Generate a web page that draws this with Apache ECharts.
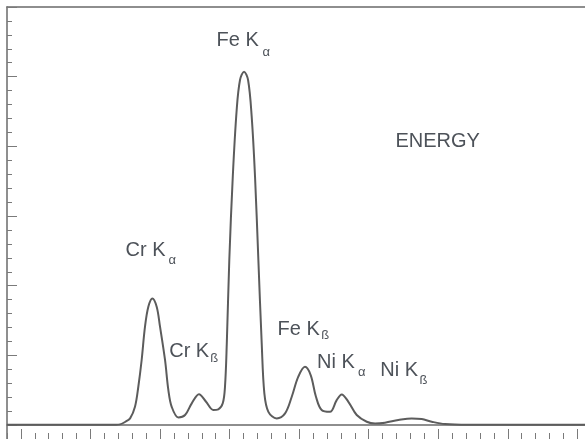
<!DOCTYPE html>
<html>
<head>
<meta charset="utf-8">
<script src="https://cdn.jsdelivr.net/npm/echarts@6/dist/echarts.min.js"></script>
<style>
  html, body { margin: 0; padding: 0; background: #fff; }
  #chart { width: 585px; height: 439px; }
</style>
</head>
<body>
<div id="chart"></div>
<script>
// Spectrum trace (x in tick units, y in tick units)
var energy = [-1.00, 5.69, 6.76, 7.12, 7.48, 7.85, 8.20, 8.44, 8.68, 8.92, 9.16, 9.45, 9.76, 10.00, 10.36, 10.60, 10.84, 11.32, 11.80, 12.28, 12.80, 13.31, 13.83, 14.19, 14.51, 14.67, 14.80, 14.98, 15.23, 15.51, 15.75, 16.04, 16.33, 16.59, 16.83, 17.07, 17.31, 17.50, 17.79, 18.39, 18.99, 19.47, 19.94, 20.42, 20.83, 21.21, 21.62, 22.22, 22.70, 23.06, 23.54, 24.14, 24.86, 25.46, 26.17, 27.13, 28.09, 28.81, 29.53, 30.49, 32.14, 40.55];
var counts = [0.02, 0.02, 0.03, 0.05, 0.22, 0.48, 1.31, 2.75, 4.67, 7.06, 8.49, 9.09, 8.49, 7.06, 4.67, 2.51, 1.31, 0.55, 0.72, 1.56, 2.22, 1.67, 1.08, 1.13, 1.56, 2.75, 5.86, 11.84, 17.82, 22.61, 24.76, 25.36, 24.76, 22.13, 17.82, 11.84, 5.86, 2.28, 0.95, 0.48, 0.84, 2.03, 3.47, 4.18, 3.59, 2.03, 1.08, 0.95, 1.79, 2.20, 1.67, 0.72, 0.24, 0.11, 0.17, 0.36, 0.48, 0.43, 0.24, 0.07, 0.02, 0.02];

var peakNames = ['Fe K', 'Cr K', 'Cr K', 'Fe K', 'Ni K', 'Ni K'];
var peakSubs = ['\u03b1', '\u03b1', '\u00df', '\u00df', '\u03b1', '\u00df'];
var axisTitle = 'ENERGY';

var X_MIN = -1, X_MAX = 40.55, Y_MIN = -1, Y_MAX = 30;
var PX_X = 578 / (X_MAX - X_MIN);      // px per x unit
var PX_Y = 432 / (Y_MAX - Y_MIN);      // px per y unit

var seriesData = energy.map(function (e, i) { return [e, counts[i]]; });

var TXT = '#4d5259';
var FONT = 'Liberation Sans, Arial, sans-serif';

// label layout: [mainX, mainY(middle), subX, subY(middle)]
var labelPos = [
  [216.5, 40.5, 262.5, 52],
  [125.5, 250, 168.5, 260],
  [169.2, 351.5, 210.2, 358.5],
  [277.5, 329, 321.2, 335.5],
  [317, 362.7, 358, 372.5],
  [380.2, 370.5, 419.5, 380]
];

var graphics = [];
peakNames.forEach(function (n, i) {
  var p = labelPos[i];
  graphics.push({ type: 'text', x: p[0], y: p[1], z: 10,
    style: { text: n, font: '20px ' + FONT, fill: TXT, verticalAlign: 'middle', align: 'left' } });
  graphics.push({ type: 'text', x: p[2], y: p[3], z: 10,
    style: { text: peakSubs[i], font: '13px ' + FONT, fill: TXT, verticalAlign: 'middle', align: 'left' } });
});
graphics.push({ type: 'text', x: 395.5, y: 141.7, z: 10,
  style: { text: axisTitle, font: '20px ' + FONT, fill: TXT, verticalAlign: 'middle', align: 'left' } });

// grid 0: data + frame + major y ticks (y min -5 so ticks land on multiples of 5)
// grid 1: minor ticks (interval 1)
// grid 2: major x ticks (x min -5)
var grid0 = { left: 7, top: 7, right: 0, bottom: -(4 * PX_Y), outerBoundsMode: 'none' };
var grid1 = { left: 7, top: 7, right: 0, bottom: 0, outerBoundsMode: 'none' };
var grid2 = { left: 7 - 4 * PX_X, top: 7, right: 0, bottom: 0, outerBoundsMode: 'none' };

var LINE = '#6a6a6a', TICK = '#7a7a7a';

var chart = echarts.init(document.getElementById('chart'), null, { renderer: 'canvas' });
chart.setOption({
  animation: false,
  backgroundColor: '#ffffff',
  grid: [grid0, grid1, grid2],
  xAxis: [
    { gridIndex: 0, type: 'value', position: 'bottom', min: X_MIN, max: X_MAX,
      axisLine: { show: true, onZero: true, lineStyle: { color: LINE, width: 1.5 } },
      axisTick: { show: false }, axisLabel: { show: false }, splitLine: { show: false } },
    { gridIndex: 0, type: 'value', position: 'top', min: X_MIN, max: X_MAX,
      axisLine: { show: true, onZero: false, lineStyle: { color: LINE, width: 1.5 } },
      axisTick: { show: false }, axisLabel: { show: false }, splitLine: { show: false } },
    { gridIndex: 1, type: 'value', position: 'bottom', min: X_MIN, max: X_MAX, interval: 1,
      axisLine: { show: false, onZero: false },
      axisTick: { show: true, inside: true, length: 6, lineStyle: { color: TICK, width: 1 } },
      axisLabel: { show: false }, splitLine: { show: false } },
    { gridIndex: 2, type: 'value', position: 'bottom', min: -5, max: X_MAX, interval: 5,
      axisLine: { show: false, onZero: false },
      axisTick: { show: true, inside: true, length: 10, lineStyle: { color: TICK, width: 1 } },
      axisLabel: { show: false }, splitLine: { show: false } }
  ],
  yAxis: [
    { gridIndex: 0, type: 'value', position: 'left', min: -5, max: Y_MAX, interval: 5,
      axisLine: { show: true, onZero: false, lineStyle: { color: LINE, width: 1.5 } },
      axisTick: { show: true, inside: true, length: 10, lineStyle: { color: TICK, width: 1 } },
      axisLabel: { show: false }, splitLine: { show: false } },
    { gridIndex: 1, type: 'value', position: 'left', min: Y_MIN, max: Y_MAX, interval: 1,
      axisLine: { show: false, onZero: false },
      axisTick: { show: true, inside: true, length: 5, lineStyle: { color: TICK, width: 1 } },
      axisLabel: { show: false }, splitLine: { show: false } },
    { gridIndex: 2, type: 'value', show: false, min: Y_MIN, max: Y_MAX,
      axisLine: { onZero: false } }
  ],
  series: [{
    type: 'line',
    xAxisIndex: 0, yAxisIndex: 0,
    data: seriesData,
    smooth: 0.35,
    symbol: 'none',
    lineStyle: { color: '#5c5c5c', width: 2 },
    z: 5
  }],
  graphic: graphics
});
</script>
</body>
</html>
